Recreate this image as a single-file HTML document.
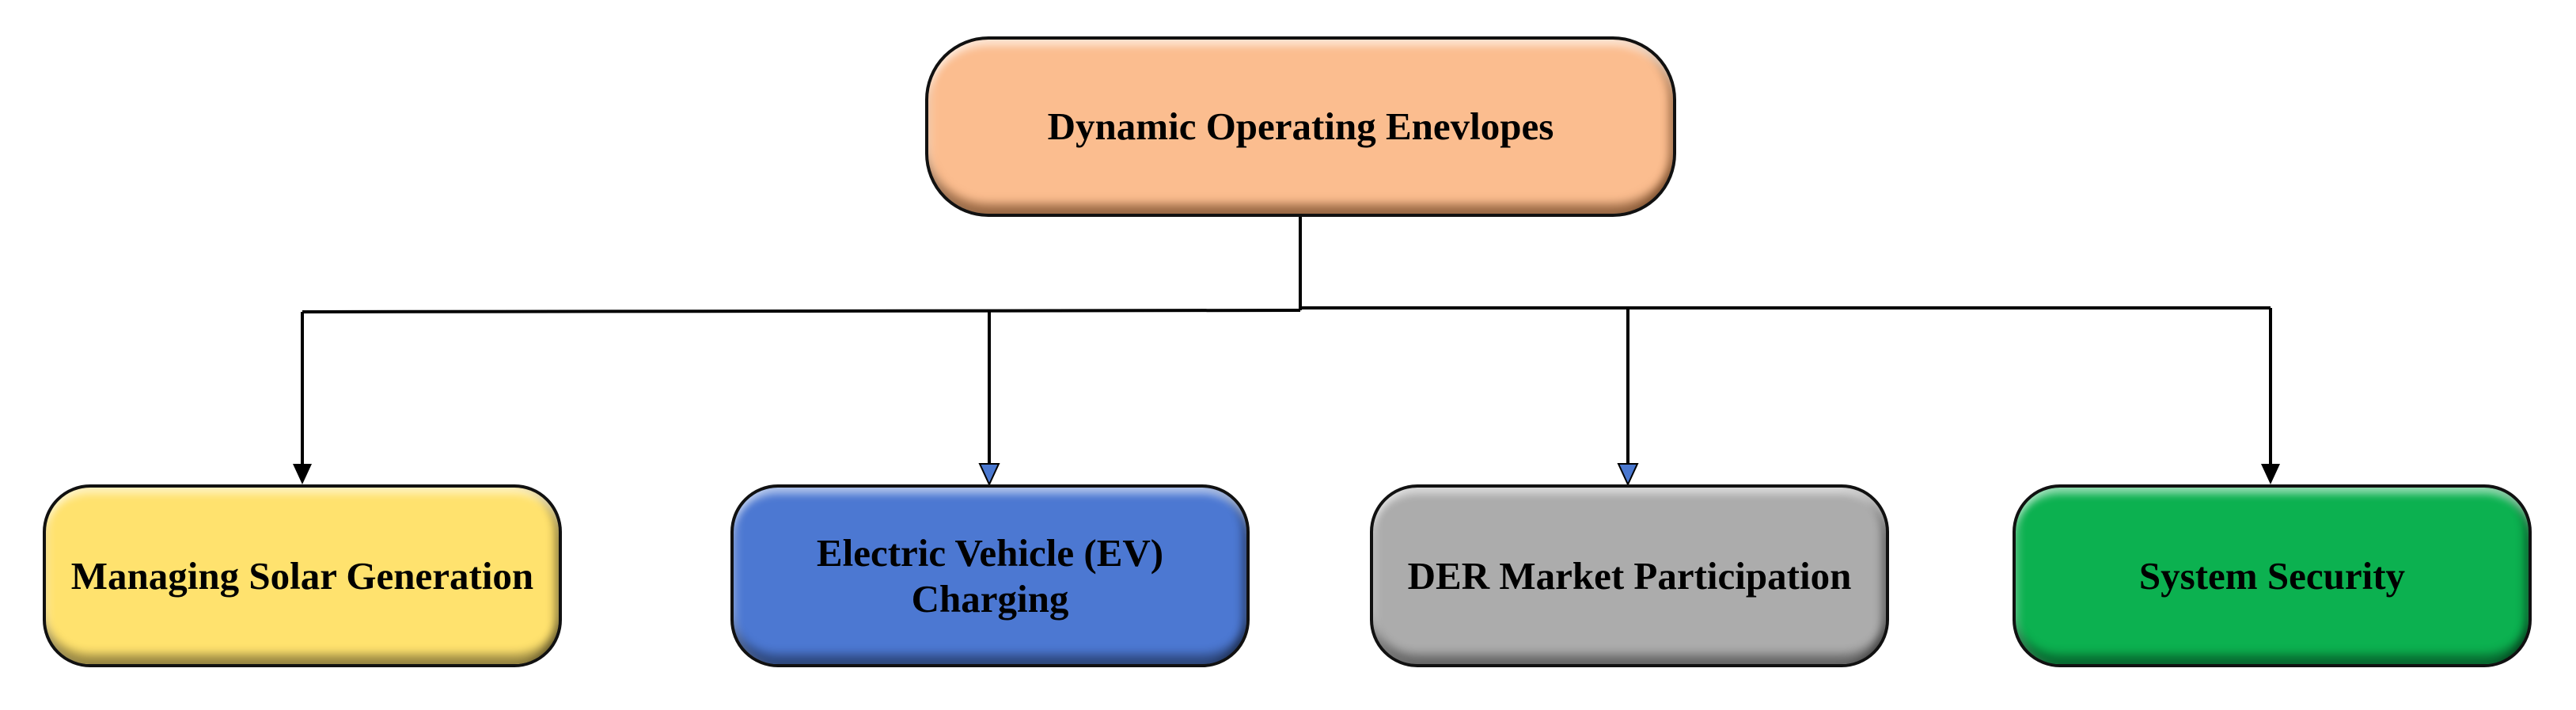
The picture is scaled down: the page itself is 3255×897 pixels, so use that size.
<!DOCTYPE html>
<html><head><meta charset="utf-8"><style>
html,body{margin:0;padding:0;background:#fff;}
body{width:3255px;height:897px;position:relative;overflow:hidden;font-family:"Liberation Serif",serif;}
.box{position:absolute;box-sizing:border-box;border:4px solid #111;display:flex;align-items:center;justify-content:center;text-align:center;font-weight:bold;font-size:49px;line-height:58px;color:#000;}
.top{left:1169px;top:46px;width:949px;height:228px;border-radius:80px;background:#fbbd8f;
 box-shadow:inset 0 14px 10px -6px rgba(255,255,255,.6),inset 0 -18px 12px -6px rgba(90,50,20,.6),inset 10px 0 10px -6px rgba(255,255,255,.35),inset -12px 0 10px -6px rgba(90,50,20,.45);}
.b{top:612px;height:231px;width:656px;border-radius:60px;
 box-shadow:inset 0 14px 10px -6px rgba(255,255,255,.55),inset 0 -18px 12px -6px rgba(0,0,0,.4),inset 10px 0 10px -6px rgba(255,255,255,.3),inset -12px 0 10px -6px rgba(0,0,0,.35);}
</style></head><body>
<svg width="3255" height="897" style="position:absolute;left:0;top:0">
<g stroke="#000" stroke-width="4" fill="none">
<line x1="1643" y1="274" x2="1643" y2="392"/>
<line x1="382" y1="394" x2="1643" y2="392"/>
<line x1="1643" y1="389" x2="2869" y2="389"/>
<line x1="382" y1="394" x2="382" y2="590"/>
<line x1="1250" y1="393" x2="1250" y2="590"/>
<line x1="2057" y1="390" x2="2057" y2="590"/>
<line x1="2869" y1="389" x2="2869" y2="590"/>
</g>
<polygon points="370,586 394,586 382,612" fill="#000"/>
<polygon points="1238,586 1262,586 1250,612" fill="#4a78d0" stroke="#000" stroke-width="2"/>
<polygon points="2045,586 2069,586 2057,612" fill="#4a78d0" stroke="#000" stroke-width="2"/>
<polygon points="2857,586 2881,586 2869,612" fill="#000"/>
</svg>
<div class="box top">Dynamic Operating Enevlopes</div>
<div class="box b" style="left:54px;background:#ffe26e;">Managing Solar Generation</div>
<div class="box b" style="left:923px;background:#4c78d2;">Electric Vehicle (EV)<br>Charging</div>
<div class="box b" style="left:1731px;background:#acacac;">DER Market Participation</div>
<div class="box b" style="left:2543px;background:#0cb150;">System Security</div>
</body></html>
